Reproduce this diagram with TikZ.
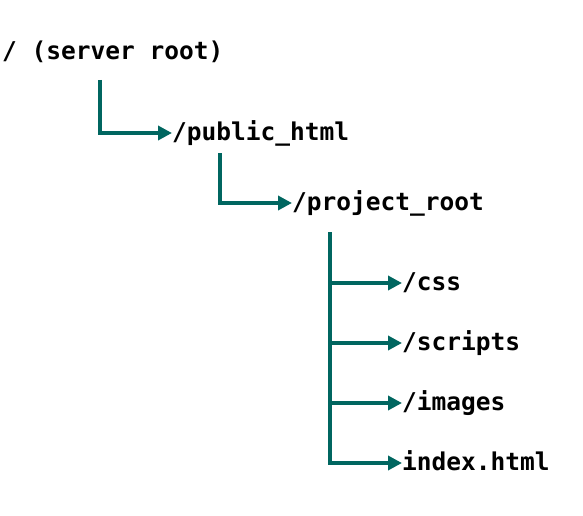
\documentclass[tikz,border=0pt]{standalone}
\usepackage{fontspec}
\setmonofont{DejaVu Sans Mono}
\usepackage{tikz}
\usetikzlibrary{arrows.meta,calc,positioning}
\definecolor{branchteal}{RGB}{0,102,96}

\begin{document}
\begin{tikzpicture}[
    x=1pt, y=-1pt,
    dirname/.style={anchor=base west, inner sep=0, font=\fontsize{24.5}{28}\selectfont\ttfamily\bfseries},
    branch/.style={draw=branchteal, line width=4pt, -{Triangle[length=14pt,width=14pt]}}]
\useasboundingbox (0,0) rectangle (583,516);

% tree of folders
\node[dirname] (root)     at (2,60)    {/ (server root)};
\node[dirname] (pubhtml)  at (172,140) {/public\_html};
\node[dirname] (projroot) at (292,210) {/project\_root};
\node[dirname] (css)      at (402,290) {/css};
\node[dirname] (scripts)  at (402,350) {/scripts};
\node[dirname] (images)   at (402,410) {/images};
\node[dirname] (index)    at (402,470) {index.html};

% connectors
\draw[branch] ([xshift=98pt,yshift=-20pt]root.base west) |- ([yshift=7pt]pubhtml.base west);
\draw[branch] ([xshift=48pt,yshift=-13pt]pubhtml.base west) |- ([yshift=7pt]projroot.base west);
\draw[branch] ([xshift=38pt,yshift=-22pt]projroot.base west) |- ([yshift=7pt]index.base west);
\foreach \dir in {css,scripts,images}
    \draw[branch] ([xshift=-72pt,yshift=7pt]\dir.base west) -- ([yshift=7pt]\dir.base west);

\end{tikzpicture}
\end{document}
